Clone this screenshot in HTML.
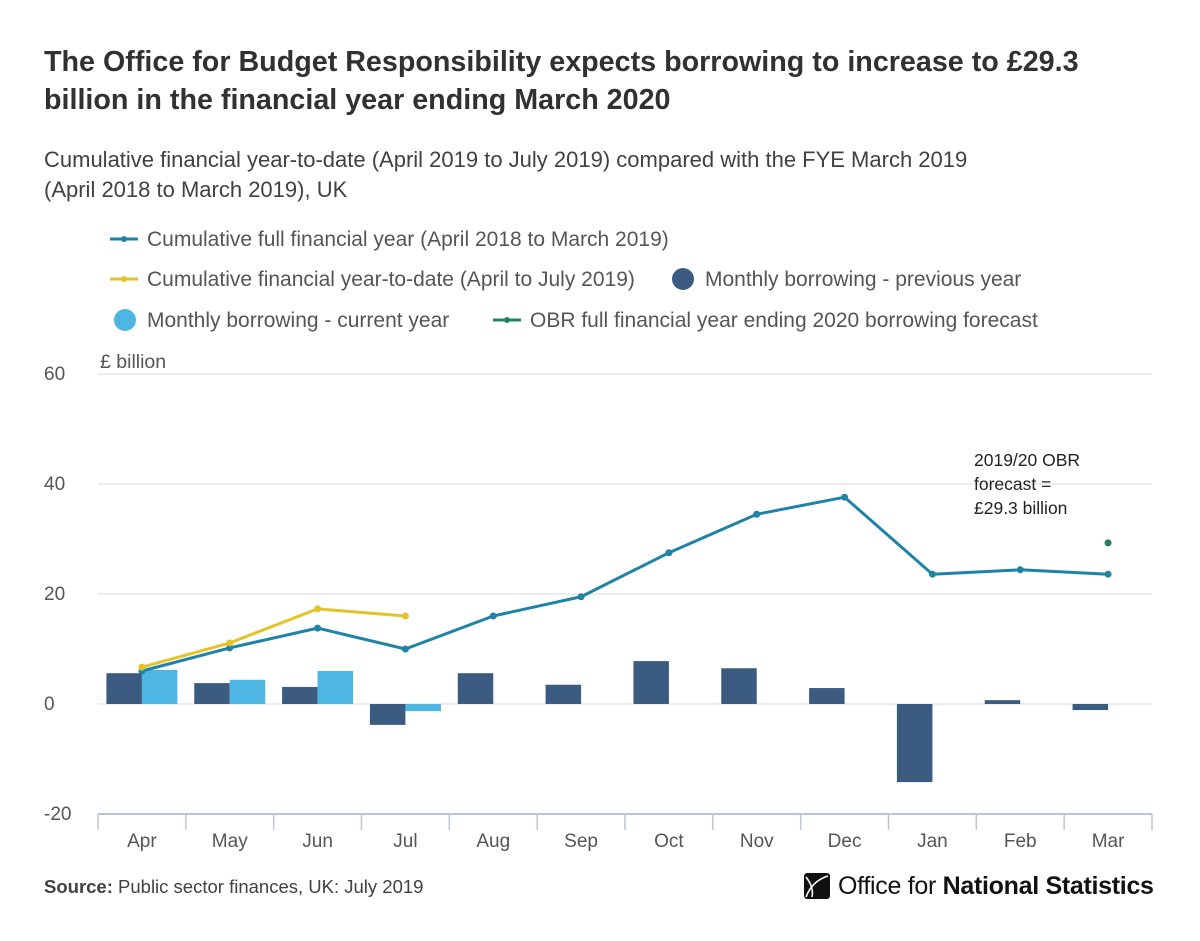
<!DOCTYPE html>
<html><head><meta charset="utf-8"><style>
body{margin:0;background:#fff;font-family:"Liberation Sans",sans-serif;}
#wrap{position:relative;width:1200px;height:941px;overflow:hidden;}
h1{position:absolute;left:44px;top:43px;margin:0;font-size:28.7px;line-height:38px;color:#323132;font-weight:bold;width:1100px;}
.sub{position:absolute;left:44px;top:145px;font-size:22px;line-height:30px;color:#414042;}
.src{position:absolute;left:44px;top:876px;font-size:18.5px;color:#414042;}
</style></head><body>
<div id="wrap">
<h1>The Office for Budget Responsibility expects borrowing to increase to £29.3<br>billion in the financial year ending March 2020</h1>
<div class="sub">Cumulative financial year-to-date (April 2019 to July 2019) compared with the FYE March 2019<br>(April 2018 to March 2019), UK</div>
<svg width="1200" height="941" style="position:absolute;left:0;top:0" id="svg">
<g font-size="21" fill="#555">
<g><line x1="110" y1="239" x2="138" y2="239" stroke="#1f83a7" stroke-width="3"/><circle cx="124" cy="239" r="3" fill="#1f83a7"/><text x="147" y="246">Cumulative full financial year (April 2018 to March 2019)</text></g>
<g><line x1="110" y1="279" x2="138" y2="279" stroke="#e6c229" stroke-width="3"/><circle cx="124" cy="279" r="3" fill="#e6c229"/><text x="147" y="286">Cumulative financial year-to-date (April to July 2019)</text></g>
<g><circle cx="683" cy="279" r="11" fill="#3b5c80"/><text x="705" y="286">Monthly borrowing - previous year</text></g>
<g><circle cx="125" cy="320" r="11" fill="#4db6e2"/><text x="147" y="327">Monthly borrowing - current year</text></g>
<g><line x1="493" y1="320" x2="521" y2="320" stroke="#23815e" stroke-width="3"/><circle cx="507" cy="320" r="3" fill="#23815e"/><text x="530" y="327">OBR full financial year ending 2020 borrowing forecast</text></g>
</g>
<text x="100" y="368" font-size="19.5" fill="#555">£ billion</text>
<g id="grid"></g>
<g id="bars"></g>
<g id="lines"></g>
<g id="xaxis"></g>
<g font-size="17.5" fill="#222">
<text x="974" y="466">2019/20 OBR</text><text x="974" y="490">forecast =</text><text x="974" y="514">£29.3 billion</text></g>
</svg>
<div class="src"><b>Source:</b> Public sector finances, UK: July 2019</div>
<div style="position:absolute;left:804px;top:870px;height:32px;display:flex;align-items:center;">
<svg width="26" height="26" viewBox="0 0 26 26"><rect x="0" y="0" width="26" height="26" rx="3" fill="#111"/><path d="M2 24 Q8 8 24 3" stroke="#fff" stroke-width="1.6" fill="none"/><path d="M2 4 Q10 14 8 24" stroke="#fff" stroke-width="1.6" fill="none"/></svg>
<span style="font-size:25px;color:#111;margin-left:8px;letter-spacing:-0.3px">Office for <b style="font-weight:600">National Statistics</b></span></div>
</div>
<script>
const months=["Apr","May","Jun","Jul","Aug","Sep","Oct","Nov","Dec","Jan","Feb","Mar"];
const cumFull=[6.0,10.2,13.8,10.0,16.0,19.5,27.5,34.5,37.6,23.6,24.4,23.6];
const cumYTD=[6.7,11.1,17.3,16.0];
const monthlyPrev=[5.6,3.8,3.1,-3.8,5.6,3.5,7.8,6.5,2.9,-14.2,0.7,-1.1];
const monthlyCur=[6.2,4.4,6.0,-1.3];
const obrForecast=29.3;
const yTicks=[60,40,20,0,-20];
const NS="http://www.w3.org/2000/svg";
const x0=98,x1=1152,bw=(x1-x0)/12;
const y=v=>704-v*5.5;
const cx=i=>x0+bw*(i+0.5);
function mk(t,a,p){const e=document.createElementNS(NS,t);for(const k in a)e.setAttribute(k,a[k]);p.appendChild(e);return e;}
const grid=document.getElementById('grid'),bars=document.getElementById('bars'),lines=document.getElementById('lines'),xa=document.getElementById('xaxis');
yTicks.forEach(v=>{
 const l=mk('line',{x1:98,x2:1152,y1:y(v),y2:y(v),stroke:v===-20?'#bfc3d6':'#e2e2e2','stroke-width':v===-20?2:1.3},grid);
 
 
 const t=mk('text',{x:44,y:y(v)+6,'font-size':19,fill:'#555'},grid);t.textContent=v;
 
 
});
for(let i=0;i<=12;i++){const l=mk('line',{x1:x0+bw*i,x2:x0+bw*i,y1:814,y2:830,stroke:'#bfc3d6','stroke-width':1.5},xa);
 
 }
months.forEach((m,i)=>{const t=mk('text',{x:cx(i),y:847,'font-size':19,fill:'#555','text-anchor':'middle'},xa);t.textContent=m;
 
 });
const w=35.5;
monthlyPrev.forEach((v,i)=>{const r=mk('rect',{x:cx(i)-w,y:Math.min(y(v),y(0)),width:w,height:Math.abs(y(v)-y(0)),fill:'#3b5c80'},bars);
 
 });
monthlyCur.forEach((v,i)=>{const r=mk('rect',{x:cx(i),y:Math.min(y(v),y(0)),width:w,height:Math.abs(y(v)-y(0)),fill:'#4db6e2'},bars);
 
 });
function line(d,col,name){
 const p=mk('polyline',{points:d.map((v,i)=>cx(i)+','+y(v)).join(' '),fill:'none',stroke:col,'stroke-width':3,'stroke-linejoin':'round'},lines);
 
 
 d.forEach((v,i)=>{const c=mk('circle',{cx:cx(i),cy:y(v),r:3.5,fill:col},lines);
  
  });
}
line(cumFull,'#1f83a7','line-cumulative-full-year');
line(cumYTD,'#e6c229','line-cumulative-ytd');
const o=mk('circle',{cx:cx(11),cy:y(obrForecast),r:3.5,fill:'#23815e'},lines);


</script>
</body></html>
